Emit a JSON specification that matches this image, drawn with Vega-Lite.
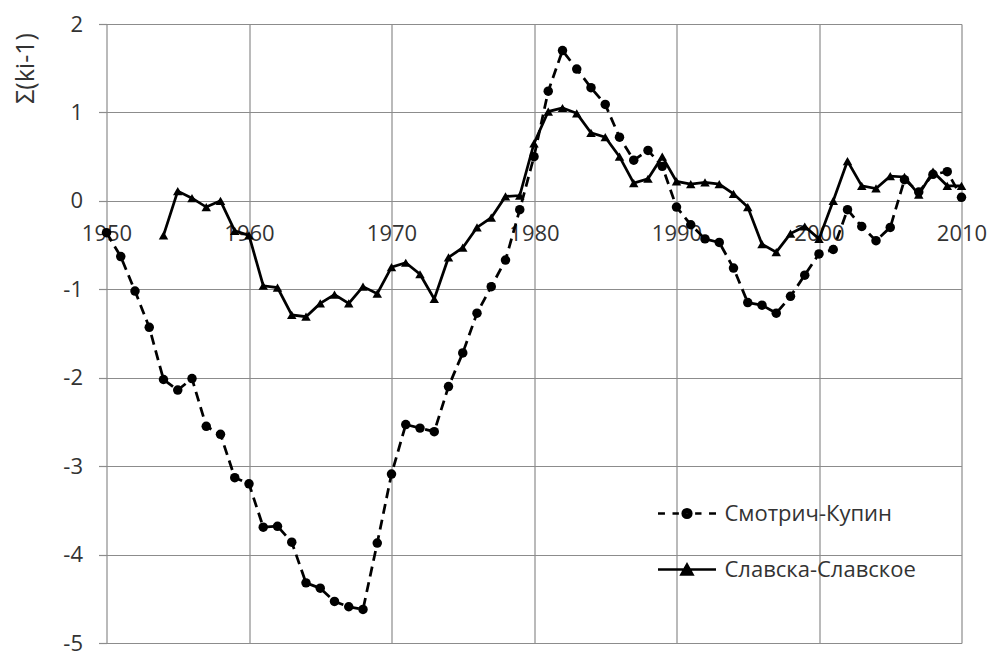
{
  "$schema": "https://vega.github.io/schema/vega-lite/v6.json",
  "width": 855,
  "height": 619,
  "autosize": {"type": "none"},
  "padding": {"left": 106.5, "top": 24, "right": 27.5, "bottom": 8},
  "background": "white",
  "config": {"view": {"stroke": null}, "font": "Open Sans"},
  "data": {"values": [
    {"series": "Смотрич-Купин", "year": 1950, "value": -0.36},
    {"series": "Смотрич-Купин", "year": 1951, "value": -0.63},
    {"series": "Смотрич-Купин", "year": 1952, "value": -1.02},
    {"series": "Смотрич-Купин", "year": 1953, "value": -1.43},
    {"series": "Смотрич-Купин", "year": 1954, "value": -2.02},
    {"series": "Смотрич-Купин", "year": 1955, "value": -2.14},
    {"series": "Смотрич-Купин", "year": 1956, "value": -2.01},
    {"series": "Смотрич-Купин", "year": 1957, "value": -2.55},
    {"series": "Смотрич-Купин", "year": 1958, "value": -2.64},
    {"series": "Смотрич-Купин", "year": 1959, "value": -3.13},
    {"series": "Смотрич-Купин", "year": 1960, "value": -3.20},
    {"series": "Смотрич-Купин", "year": 1961, "value": -3.69},
    {"series": "Смотрич-Купин", "year": 1962, "value": -3.68},
    {"series": "Смотрич-Купин", "year": 1963, "value": -3.86},
    {"series": "Смотрич-Купин", "year": 1964, "value": -4.32},
    {"series": "Смотрич-Купин", "year": 1965, "value": -4.38},
    {"series": "Смотрич-Купин", "year": 1966, "value": -4.53},
    {"series": "Смотрич-Купин", "year": 1967, "value": -4.59},
    {"series": "Смотрич-Купин", "year": 1968, "value": -4.62},
    {"series": "Смотрич-Купин", "year": 1969, "value": -3.87},
    {"series": "Смотрич-Купин", "year": 1970, "value": -3.09},
    {"series": "Смотрич-Купин", "year": 1971, "value": -2.53},
    {"series": "Смотрич-Купин", "year": 1972, "value": -2.57},
    {"series": "Смотрич-Купин", "year": 1973, "value": -2.61},
    {"series": "Смотрич-Купин", "year": 1974, "value": -2.10},
    {"series": "Смотрич-Купин", "year": 1975, "value": -1.72},
    {"series": "Смотрич-Купин", "year": 1976, "value": -1.27},
    {"series": "Смотрич-Купин", "year": 1977, "value": -0.97},
    {"series": "Смотрич-Купин", "year": 1978, "value": -0.67},
    {"series": "Смотрич-Купин", "year": 1979, "value": -0.10},
    {"series": "Смотрич-Купин", "year": 1980, "value": 0.50},
    {"series": "Смотрич-Купин", "year": 1981, "value": 1.24},
    {"series": "Смотрич-Купин", "year": 1982, "value": 1.70},
    {"series": "Смотрич-Купин", "year": 1983, "value": 1.49},
    {"series": "Смотрич-Купин", "year": 1984, "value": 1.28},
    {"series": "Смотрич-Купин", "year": 1985, "value": 1.09},
    {"series": "Смотрич-Купин", "year": 1986, "value": 0.72},
    {"series": "Смотрич-Купин", "year": 1987, "value": 0.46},
    {"series": "Смотрич-Купин", "year": 1988, "value": 0.57},
    {"series": "Смотрич-Купин", "year": 1989, "value": 0.39},
    {"series": "Смотрич-Купин", "year": 1990, "value": -0.07},
    {"series": "Смотрич-Купин", "year": 1991, "value": -0.27},
    {"series": "Смотрич-Купин", "year": 1992, "value": -0.43},
    {"series": "Смотрич-Купин", "year": 1993, "value": -0.47},
    {"series": "Смотрич-Купин", "year": 1994, "value": -0.76},
    {"series": "Смотрич-Купин", "year": 1995, "value": -1.15},
    {"series": "Смотрич-Купин", "year": 1996, "value": -1.18},
    {"series": "Смотрич-Купин", "year": 1997, "value": -1.27},
    {"series": "Смотрич-Купин", "year": 1998, "value": -1.08},
    {"series": "Смотрич-Купин", "year": 1999, "value": -0.84},
    {"series": "Смотрич-Купин", "year": 2000, "value": -0.60},
    {"series": "Смотрич-Купин", "year": 2001, "value": -0.55},
    {"series": "Смотрич-Купин", "year": 2002, "value": -0.10},
    {"series": "Смотрич-Купин", "year": 2003, "value": -0.29},
    {"series": "Смотрич-Купин", "year": 2004, "value": -0.45},
    {"series": "Смотрич-Купин", "year": 2005, "value": -0.30},
    {"series": "Смотрич-Купин", "year": 2006, "value": 0.24},
    {"series": "Смотрич-Купин", "year": 2007, "value": 0.10},
    {"series": "Смотрич-Купин", "year": 2008, "value": 0.30},
    {"series": "Смотрич-Купин", "year": 2009, "value": 0.33},
    {"series": "Смотрич-Купин", "year": 2010, "value": 0.04},
    {"series": "Славска-Славское", "year": 1954, "value": -0.39},
    {"series": "Славска-Славское", "year": 1955, "value": 0.11},
    {"series": "Славска-Славское", "year": 1956, "value": 0.03},
    {"series": "Славска-Славское", "year": 1957, "value": -0.07},
    {"series": "Славска-Славское", "year": 1958, "value": 0.00},
    {"series": "Славска-Славское", "year": 1959, "value": -0.34},
    {"series": "Славска-Славское", "year": 1960, "value": -0.39},
    {"series": "Славска-Славское", "year": 1961, "value": -0.96},
    {"series": "Славска-Славское", "year": 1962, "value": -0.98},
    {"series": "Славска-Славское", "year": 1963, "value": -1.29},
    {"series": "Славска-Славское", "year": 1964, "value": -1.31},
    {"series": "Славска-Славское", "year": 1965, "value": -1.16},
    {"series": "Славска-Славское", "year": 1966, "value": -1.06},
    {"series": "Славска-Славское", "year": 1967, "value": -1.16},
    {"series": "Славска-Славское", "year": 1968, "value": -0.97},
    {"series": "Славска-Славское", "year": 1969, "value": -1.05},
    {"series": "Славска-Славское", "year": 1970, "value": -0.75},
    {"series": "Славска-Славское", "year": 1971, "value": -0.70},
    {"series": "Славска-Славское", "year": 1972, "value": -0.83},
    {"series": "Славска-Славское", "year": 1973, "value": -1.11},
    {"series": "Славска-Славское", "year": 1974, "value": -0.64},
    {"series": "Славска-Славское", "year": 1975, "value": -0.53},
    {"series": "Славска-Славское", "year": 1976, "value": -0.30},
    {"series": "Славска-Славское", "year": 1977, "value": -0.19},
    {"series": "Славска-Славское", "year": 1978, "value": 0.05},
    {"series": "Славска-Славское", "year": 1979, "value": 0.06},
    {"series": "Славска-Славское", "year": 1980, "value": 0.65},
    {"series": "Славска-Славское", "year": 1981, "value": 1.01},
    {"series": "Славска-Славское", "year": 1982, "value": 1.05},
    {"series": "Славска-Славское", "year": 1983, "value": 0.99},
    {"series": "Славска-Славское", "year": 1984, "value": 0.77},
    {"series": "Славска-Славское", "year": 1985, "value": 0.72},
    {"series": "Славска-Славское", "year": 1986, "value": 0.50},
    {"series": "Славска-Славское", "year": 1987, "value": 0.20},
    {"series": "Славска-Славское", "year": 1988, "value": 0.25},
    {"series": "Славска-Славское", "year": 1989, "value": 0.50},
    {"series": "Славска-Славское", "year": 1990, "value": 0.22},
    {"series": "Славска-Славское", "year": 1991, "value": 0.19},
    {"series": "Славска-Славское", "year": 1992, "value": 0.21},
    {"series": "Славска-Славское", "year": 1993, "value": 0.19},
    {"series": "Славска-Славское", "year": 1994, "value": 0.08},
    {"series": "Славска-Славское", "year": 1995, "value": -0.07},
    {"series": "Славска-Славское", "year": 1996, "value": -0.49},
    {"series": "Славска-Славское", "year": 1997, "value": -0.58},
    {"series": "Славска-Славское", "year": 1998, "value": -0.37},
    {"series": "Славска-Славское", "year": 1999, "value": -0.29},
    {"series": "Славска-Славское", "year": 2000, "value": -0.43},
    {"series": "Славска-Славское", "year": 2001, "value": 0.00},
    {"series": "Славска-Славское", "year": 2002, "value": 0.45},
    {"series": "Славска-Славское", "year": 2003, "value": 0.17},
    {"series": "Славска-Славское", "year": 2004, "value": 0.14},
    {"series": "Славска-Славское", "year": 2005, "value": 0.28},
    {"series": "Славска-Славское", "year": 2006, "value": 0.27},
    {"series": "Славска-Славское", "year": 2007, "value": 0.07},
    {"series": "Славска-Славское", "year": 2008, "value": 0.33},
    {"series": "Славска-Славское", "year": 2009, "value": 0.17},
    {"series": "Славска-Славское", "year": 2010, "value": 0.17}
  ]},
  "encoding": {
    "x": {
      "field": "year", "type": "quantitative",
      "scale": {"domain": [1950, 2010], "nice": false, "zero": false},
      "axis": {
        "values": [1950, 1960, 1970, 1980, 1990, 2000, 2010],
        "format": "d", "title": null, "domain": false, "ticks": false,
        "labelPadding": 23, "labelFontSize": 22, "labelFont": "Open Sans",
        "labelColor": "#333333", "labelFlush": false, "labelOverlap": false,
        "gridColor": "#8c8c8c", "gridWidth": 1.2, "gridOpacity": 1,
        "offset": -442.14
      }
    },
    "y": {
      "field": "value", "type": "quantitative",
      "scale": {"domain": [-5, 2], "nice": false, "zero": false},
      "axis": {
        "values": [-5, -4, -3, -2, -1, 0, 1, 2],
        "labelExpr": "'' + datum.value",
        "title": "Σ(ki-1)", "titleFont": "Open Sans", "titleFontSize": 25,
        "titleFontWeight": "normal", "titleColor": "#333333",
        "titleAngle": 270, "titleAlign": "center", "titleBaseline": "middle",
        "titleX": -81.5, "titleY": 44,
        "domain": false, "tickColor": "#8c8c8c", "tickSize": 8, "tickWidth": 1.2,
        "labelPadding": 16, "labelFontSize": 22, "labelFont": "Open Sans",
        "labelColor": "#333333", "labelOverlap": false, "labelFlush": false,
        "gridColor": "#8c8c8c", "gridWidth": 1.2, "gridOpacity": 1
      }
    }
  },
  "resolve": {"scale": {"shape": "independent"}, "legend": {"shape": "independent"}},
  "layer": [
    {
      "transform": [{"filter": "datum.series === 'Смотрич-Купин'"}],
      "mark": {"type": "line", "color": "black", "strokeWidth": 2.75, "strokeDash": [10, 6]}
    },
    {
      "transform": [{"filter": "datum.series === 'Славска-Славское'"}],
      "mark": {"type": "line", "color": "black", "strokeWidth": 2.75}
    },
    {
      "mark": {"type": "point", "filled": true, "color": "black", "opacity": 1, "size": 90},
      "encoding": {
        "shape": {
          "field": "series", "type": "nominal",
          "scale": {"domain": ["Смотрич-Купин", "Славска-Славское"], "range": ["circle", "triangle-up"]},
          "legend": null
        }
      }
    },
    {
      "mark": {"type": "point", "filled": false, "color": "black", "opacity": 0, "strokeWidth": 2.5},
      "encoding": {
        "shape": {
          "field": "series", "type": "nominal",
          "scale": {"domain": ["Смотрич-Купин", "Славска-Славское"], "range": [
            "M-1,0H-0.76M0.76,0H1M-0.5,0H-0.28M0.28,0H0.5M-0.15,0A0.15,0.15 0 1,1 0.15,0A0.15,0.15 0 1,1 -0.15,0ZM-0.09,0A0.09,0.09 0 1,1 0.09,0A0.09,0.09 0 1,1 -0.09,0ZM-0.035,0A0.035,0.035 0 1,1 0.035,0A0.035,0.035 0 1,1 -0.035,0Z",
            "M-1,0H1M-0.19,0.17L0,-0.17L0.19,0.17ZM-0.114,0.125L0,-0.079L0.114,0.125ZM-0.048,0.085L0,0L0.048,0.085Z"
          ]},
          "legend": {
            "orient": "none", "legendX": 550, "legendY": 459, "title": null, "padding": 0,
            "symbolSize": 3364, "symbolStrokeWidth": 2.5, "symbolFillColor": "black",
            "symbolStrokeColor": "black", "symbolOpacity": 1,
            "labelFontSize": 22, "labelFont": "Open Sans", "labelColor": "#333333",
            "labelOffset": 7, "rowPadding": 14, "labelLimit": 400
          }
        }
      }
    }
  ]
}
